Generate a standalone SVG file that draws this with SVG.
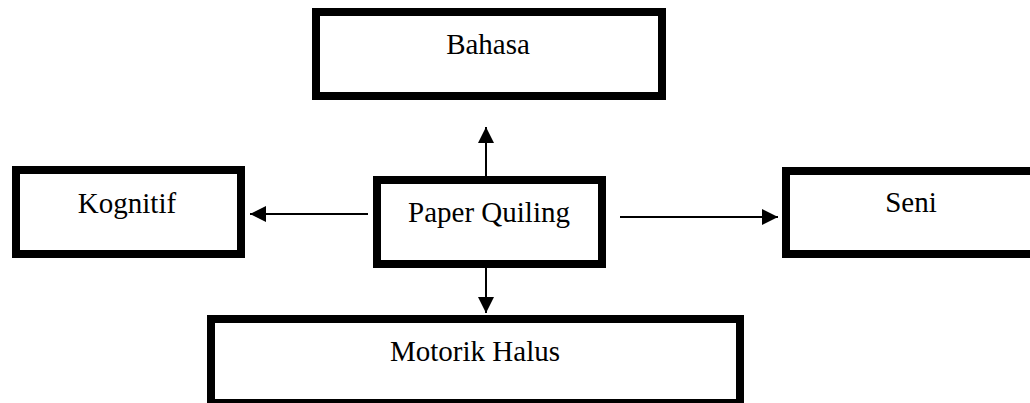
<svg xmlns="http://www.w3.org/2000/svg" width="1030" height="403" viewBox="0 0 1030 403">
<style>
.box{fill:#fff;stroke:#000;stroke-width:8}
.lbl{font-family:"Liberation Serif","Times New Roman",serif;font-size:29px;fill:#000;text-anchor:middle}
.conn{stroke:#000;stroke-width:2;fill:none;marker-end:url(#arr)}
</style>
<defs>
<marker id="arr" markerUnits="userSpaceOnUse" markerWidth="16" markerHeight="16" refX="16" refY="8" orient="auto">
<path d="M0,0 L16,8 L0,16 Z" fill="#000"/>
</marker>
</defs>
<rect width="1030" height="403" fill="#fff"/>
<g id="connectors">
<line class="conn" x1="486" y1="176" x2="486" y2="127"/>
<line class="conn" x1="486" y1="268" x2="486" y2="313"/>
<line class="conn" x1="368" y1="214" x2="250" y2="214"/>
<line class="conn" x1="620" y1="217" x2="778" y2="217"/>
</g>
<g id="bahasa"><rect class="box" x="316" y="12" width="346" height="84"/><text class="lbl" x="488" y="54">Bahasa</text></g>
<g id="kognitif"><rect class="box" x="16" y="170" width="225" height="84"/><text class="lbl" x="127" y="213">Kognitif</text></g>
<g id="paper-quiling"><rect class="box" x="377" y="180" width="225" height="84"/><text class="lbl" x="489" y="222">Paper Quiling</text></g>
<g id="seni"><rect class="box" x="786" y="171" width="260" height="83"/><text class="lbl" x="911" y="212">Seni</text></g>
<g id="motorik-halus"><rect class="box" x="211" y="319" width="529" height="84"/><text class="lbl" x="475" y="361">Motorik Halus</text></g>
</svg>
